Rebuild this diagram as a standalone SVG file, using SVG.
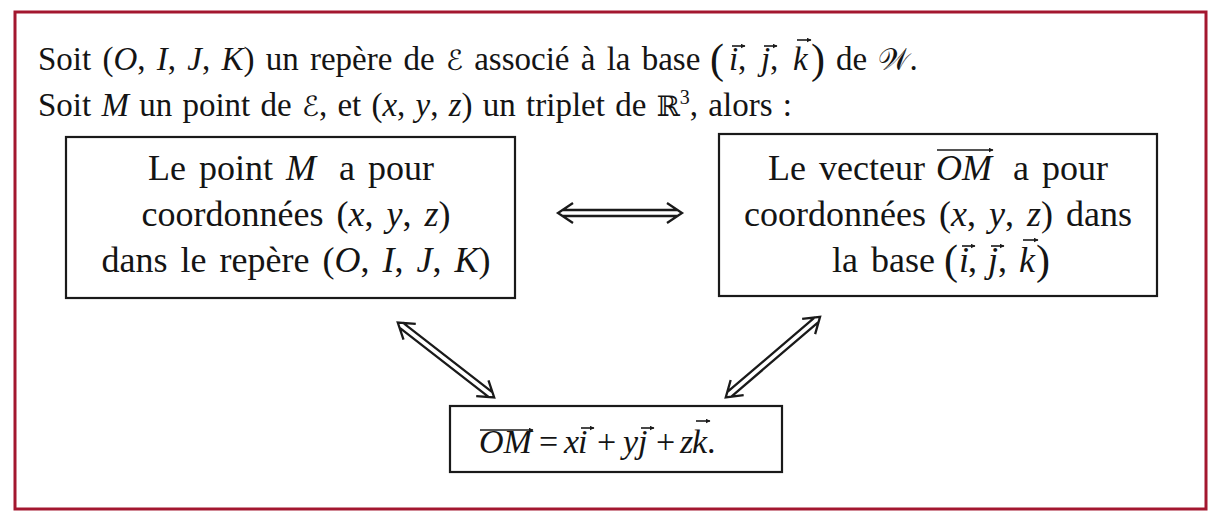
<svg xmlns="http://www.w3.org/2000/svg" width="1208" height="518" viewBox="0 0 1208 518">
<defs>
<style>
.t{font-family:"Liberation Serif","Times New Roman",serif;font-size:36px;fill:#141414;word-spacing:4px}
.s{font-size:33px;word-spacing:3px}
.it{font-style:italic}
.sym{font-family:"DejaVu Serif","DejaVu Sans",serif;font-size:28px}
.box{fill:#fff;stroke:#1a1a1a;stroke-width:2.2}
.vec{stroke:#1a1a1a;stroke-width:1.6;fill:none;marker-end:url(#vh)}
.dbl{stroke:#1a1a1a;stroke-width:2.3;fill:none;stroke-linejoin:miter}
</style>
<marker id="vh" viewBox="0 0 10 10" refX="9" refY="5" markerWidth="5" markerHeight="5" markerUnits="userSpaceOnUse" orient="auto">
<path d="M0,0 L10,5 L0,10 z" fill="#1a1a1a"/>
</marker>
</defs>
<rect x="0" y="0" width="1208" height="518" fill="#fff"/>
<rect x="15" y="12" width="1191" height="497" fill="none" stroke="#a3172f" stroke-width="3"/>

<g id="intro">
<text class="t s" x="38" y="70">Soit (<tspan class="it">O</tspan>, <tspan class="it">I</tspan>, <tspan class="it">J</tspan>, <tspan class="it">K</tspan>) un repère de <tspan class="sym">ℰ</tspan> associé à la base</text>
<text class="t" x="710" y="73" style="font-size:42px">(</text>
<text class="t s it" x="729" y="70">i</text>
<text class="t s" x="738" y="70">,</text>
<text class="t s it" x="761" y="70">j</text>
<text class="t s" x="770" y="70">,</text>
<text class="t s it" x="793" y="70">k</text>
<text class="t" x="811" y="73" style="font-size:42px">)</text>
<text class="t s" x="836" y="70">de <tspan class="sym" style="font-size:30px">𝒲</tspan>.</text>
<path class="vec" d="M732,46 H745"/>
<path class="vec" d="M764,46 H777"/>
<path class="vec" d="M797,40 H811"/>
<text class="t s" x="38" y="116" style="word-spacing:2px">Soit <tspan class="it">M</tspan> un point de <tspan class="sym">ℰ</tspan>, et (<tspan class="it">x</tspan>, <tspan class="it">y</tspan>, <tspan class="it">z</tspan>) un triplet de <tspan class="sym">ℝ</tspan><tspan style="font-size:20px" dy="-12">3</tspan><tspan dy="12">, alors :</tspan></text>
</g>

<g id="node-point">
<rect class="box" x="66" y="137" width="449" height="161"/>
<text class="t" x="148" y="180">Le point <tspan class="it">M</tspan><tspan dx="10"> a pour</tspan></text>
<text class="t" x="296" y="226" text-anchor="middle">coordonnées (<tspan class="it">x</tspan>, <tspan class="it">y</tspan>, <tspan class="it">z</tspan>)</text>
<text class="t" x="296" y="272" text-anchor="middle">dans le repère (<tspan class="it">O</tspan>, <tspan class="it">I</tspan>, <tspan class="it">J</tspan>, <tspan class="it">K</tspan>)</text>
</g>

<g id="node-vecteur">
<rect class="box" x="719" y="134" width="438" height="162"/>
<text class="t" x="768" y="180">Le vecteur</text>
<text class="t it" x="936" y="180">OM</text>
<path class="vec" d="M937,150 H993"/>
<text class="t" x="1013" y="180">a pour</text>
<text class="t" x="938" y="226" text-anchor="middle">coordonnées (<tspan class="it">x</tspan>, <tspan class="it">y</tspan>, <tspan class="it">z</tspan>) dans</text>
<text class="t" x="832" y="272">la base</text>
<text class="t" x="944" y="274" style="font-size:42px">(</text>
<text class="t it" x="959" y="272">i</text>
<text class="t" x="968" y="272">,</text>
<text class="t it" x="988" y="272">j</text>
<text class="t" x="998" y="272">,</text>
<text class="t it" x="1019" y="272">k</text>
<text class="t" x="1036" y="274" style="font-size:42px">)</text>
<path class="vec" d="M962,246 H975"/>
<path class="vec" d="M991,246 H1004"/>
<path class="vec" d="M1023,240 H1038"/>
</g>

<g id="node-formule">
<rect class="box" x="450" y="406" width="332" height="66"/>
<text class="t it" x="479" y="453" style="font-size:34px">OM</text>
<path class="vec" d="M480,430 H533"/>
<text class="t" x="539" y="453" style="font-size:34px">=</text>
<text class="t it" x="564" y="453" style="font-size:34px">x</text>
<text class="t it" x="578" y="453" style="font-size:34px">i</text>
<text class="t" x="597" y="453" style="font-size:34px">+</text>
<text class="t it" x="623" y="453" style="font-size:34px">y</text>
<text class="t it" x="638" y="453" style="font-size:34px">j</text>
<text class="t" x="656" y="453" style="font-size:34px">+</text>
<text class="t it" x="680" y="453" style="font-size:34px">z</text>
<text class="t it" x="692" y="453" style="font-size:34px">k</text>
<text class="t" x="707" y="453" style="font-size:34px">.</text>
<path class="vec" d="M581,428 H594"/>
<path class="vec" d="M641,428 H654"/>
<path class="vec" d="M696,421 H710"/>
</g>

<g id="connectors">
<g transform="translate(557,213)">
<path class="dbl" d="M5,-3 H121 M5,3 H121 M16,-10 L1,0 L16,10 M110,-10 L125,0 L110,10"/>
</g>
<g transform="translate(397,322) rotate(37.8)">
<path class="dbl" d="M5,-3 H119 M5,3 H119 M16,-10 L1,0 L16,10 M108,-10 L123,0 L108,10"/>
</g>
<g transform="translate(725,398) rotate(-40.5)">
<path class="dbl" d="M5,-3 H121 M5,3 H121 M16,-10 L1,0 L16,10 M110,-10 L125,0 L110,10"/>
</g>
</g>
</svg>
